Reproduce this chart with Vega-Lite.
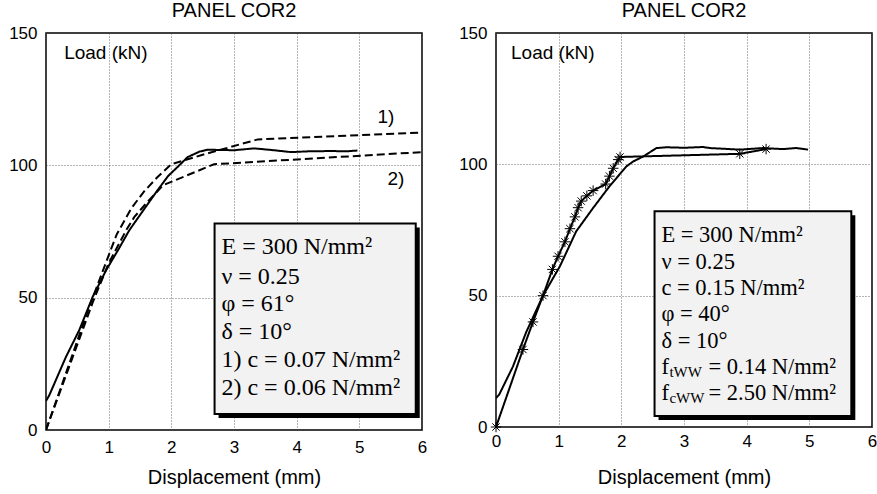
{
  "$schema": "https://vega.github.io/schema/vega-lite/v6.json",
  "background": "white",
  "padding": {"left": 5, "top": 0, "right": 0, "bottom": 0},
  "spacing": 27,
  "config": {
    "view": {"stroke": "black", "strokeWidth": 1.5},
    "font": "Liberation Sans",
    "axis": {
      "grid": true, "gridColor": "#444", "gridDash": [1, 2], "gridWidth": 0.8,
      "domain": false, "ticks": false, "labelFlush": false,
      "labelFont": "Liberation Sans", "labelFontSize": 17, "labelColor": "black",
      "titleFont": "Liberation Sans", "titleFontSize": 20, "titleFontWeight": "normal", "titleColor": "black"
    },
    "title": {"font": "Liberation Sans", "fontSize": 20, "fontWeight": "normal", "color": "black"}
  },
  "datasets": {
    "leftCurves": [
      {"x": 0, "y": 11, "s": "exp"}, {"x": 0.05, "y": 13, "s": "exp"}, {"x": 0.32, "y": 27.7, "s": "exp"},
      {"x": 0.53, "y": 37.7, "s": "exp"}, {"x": 0.745, "y": 50.3, "s": "exp"}, {"x": 0.96, "y": 60.4, "s": "exp"},
      {"x": 1.15, "y": 68, "s": "exp"}, {"x": 1.33, "y": 75.5, "s": "exp"}, {"x": 1.52, "y": 81.9, "s": "exp"},
      {"x": 1.78, "y": 90.6, "s": "exp"}, {"x": 1.95, "y": 96, "s": "exp"}, {"x": 2.1, "y": 99.4, "s": "exp"},
      {"x": 2.26, "y": 103.1, "s": "exp"}, {"x": 2.45, "y": 105.2, "s": "exp"}, {"x": 2.58, "y": 105.9, "s": "exp"},
      {"x": 2.8, "y": 105.8, "s": "exp"}, {"x": 3.0, "y": 105.7, "s": "exp"}, {"x": 3.32, "y": 106.4, "s": "exp"},
      {"x": 3.6, "y": 105.8, "s": "exp"}, {"x": 3.91, "y": 105, "s": "exp"}, {"x": 4.2, "y": 105.3, "s": "exp"},
      {"x": 4.55, "y": 105.4, "s": "exp"}, {"x": 4.8, "y": 105.3, "s": "exp"}, {"x": 4.97, "y": 105.6, "s": "exp"},
      {"x": 0, "y": 0, "s": "c1"}, {"x": 0.69, "y": 46.5, "s": "c1"}, {"x": 1.0, "y": 66, "s": "c1"},
      {"x": 1.13, "y": 74, "s": "c1"}, {"x": 1.36, "y": 83.7, "s": "c1"}, {"x": 1.56, "y": 90, "s": "c1"},
      {"x": 1.78, "y": 95.6, "s": "c1"}, {"x": 2.0, "y": 100.4, "s": "c1"}, {"x": 2.5, "y": 104, "s": "c1"},
      {"x": 3.38, "y": 109.8, "s": "c1"}, {"x": 6, "y": 112.4, "s": "c1"},
      {"x": 0, "y": 0, "s": "c2"}, {"x": 0.75, "y": 48.5, "s": "c2"}, {"x": 1.0, "y": 63, "s": "c2"},
      {"x": 1.28, "y": 75.5, "s": "c2"}, {"x": 1.41, "y": 80.5, "s": "c2"}, {"x": 1.62, "y": 86.2, "s": "c2"},
      {"x": 1.87, "y": 92.5, "s": "c2"}, {"x": 2.68, "y": 100.4, "s": "c2"}, {"x": 6, "y": 105, "s": "c2"}
    ],
    "rightCurves": [
      {"x": 0, "y": 11, "s": "exp"}, {"x": 0.05, "y": 12.3, "s": "exp"}, {"x": 0.27, "y": 23, "s": "exp"},
      {"x": 0.48, "y": 36, "s": "exp"}, {"x": 0.75, "y": 50, "s": "exp"}, {"x": 1.02, "y": 61.2, "s": "exp"},
      {"x": 1.28, "y": 74.5, "s": "exp"}, {"x": 1.55, "y": 83.4, "s": "exp"}, {"x": 1.81, "y": 91.6, "s": "exp"},
      {"x": 2.08, "y": 99.2, "s": "exp"}, {"x": 2.19, "y": 101.1, "s": "exp"}, {"x": 2.35, "y": 103, "s": "exp"},
      {"x": 2.56, "y": 106.2, "s": "exp"}, {"x": 2.72, "y": 106.5, "s": "exp"}, {"x": 3.0, "y": 106.3, "s": "exp"},
      {"x": 3.3, "y": 106.6, "s": "exp"}, {"x": 3.41, "y": 106.2, "s": "exp"}, {"x": 3.89, "y": 105.6, "s": "exp"},
      {"x": 4.26, "y": 106.2, "s": "exp"}, {"x": 4.58, "y": 105.8, "s": "exp"}, {"x": 4.79, "y": 106.2, "s": "exp"},
      {"x": 4.98, "y": 105.6, "s": "exp"},
      {"x": 0, "y": 0, "s": "num"}, {"x": 0.43, "y": 29.5, "s": "num"}, {"x": 0.59, "y": 40, "s": "num"},
      {"x": 0.75, "y": 50, "s": "num"}, {"x": 0.9, "y": 60, "s": "num"}, {"x": 0.99, "y": 65, "s": "num"},
      {"x": 1.1, "y": 70.5, "s": "num"}, {"x": 1.18, "y": 75.5, "s": "num"}, {"x": 1.26, "y": 80, "s": "num"},
      {"x": 1.31, "y": 83.5, "s": "num"}, {"x": 1.36, "y": 86, "s": "num"}, {"x": 1.45, "y": 88, "s": "num"},
      {"x": 1.55, "y": 90, "s": "num"}, {"x": 1.75, "y": 92.5, "s": "num"}, {"x": 1.81, "y": 95.5, "s": "num"},
      {"x": 1.87, "y": 98.5, "s": "num"}, {"x": 1.95, "y": 101.8, "s": "num"}, {"x": 1.98, "y": 102.8, "s": "num"},
      {"x": 3.89, "y": 104, "s": "num"}, {"x": 4.31, "y": 105.8, "s": "num"}
    ],
    "leftBox": [{"x": 2.69, "x2": 5.9, "y": 6.0, "y2": 78.0}],
    "rightBox": [{"x": 2.53, "x2": 5.67, "y": 4.2, "y2": 82.1}],
    "leftLabels": [
      {"x": 0.29, "y": 142.6, "t": "Load (kN)"},
      {"x": 5.29, "y": 118.2, "t": "1)"},
      {"x": 5.45, "y": 95.0, "t": "2)"}
    ],
    "rightLabels": [
      {"x": 0.24, "y": 142.4, "t": "Load (kN)"}
    ],
    "leftBoxText": [
      {"x": 2.8, "y": 69.1, "t": "E = 300 N/mm²"},
      {"x": 2.8, "y": 57.9, "t": "ν = 0.25"},
      {"x": 2.8, "y": 47.5, "t": "φ = 61°"},
      {"x": 2.8, "y": 37.2, "t": "δ = 10°"},
      {"x": 2.8, "y": 26.6, "t": "1) c = 0.07 N/mm²"},
      {"x": 2.8, "y": 16.0, "t": "2) c = 0.06 N/mm²"}
    ],
    "rightBoxText": [
      {"x": 2.64, "y": 73.1, "t": "E = 300 N/mm²"},
      {"x": 2.64, "y": 63.0, "t": "ν = 0.25"},
      {"x": 2.64, "y": 52.9, "t": "c = 0.15 N/mm²"},
      {"x": 2.64, "y": 43.0, "t": "φ = 40°"},
      {"x": 2.64, "y": 32.9, "t": "δ = 10°"}
    ],
    "rightBoxSub": [
      {"x": 2.64, "y": 22.8, "f": "f", "sub": "tWW", "rest": "= 0.14 N/mm²"},
      {"x": 2.64, "y": 12.8, "f": "f", "sub": "cWW", "rest": "= 2.50 N/mm²"}
    ]
  },
  "hconcat": [
    {
      "width": 376, "height": 397,
      "title": {"text": "PANEL COR2", "offset": 3},
      "encoding": {
        "x": {"field": "x", "type": "quantitative", "scale": {"domain": [0, 6], "nice": false, "zero": false},
              "axis": {"values": [0, 1, 2, 3, 4, 5, 6], "title": "Displacement (mm)", "labelPadding": 9, "titlePadding": 12, "format": "d"}},
        "y": {"field": "y", "type": "quantitative", "scale": {"domain": [0, 150], "nice": false, "zero": false},
              "axis": {"values": [0, 50, 100, 150], "title": null, "labelPadding": 9, "minExtent": 40, "maxExtent": 40, "format": "d"}}
      },
      "layer": [
        {
          "data": {"name": "leftCurves"},
          "mark": {"type": "line", "color": "black", "strokeWidth": 2, "clip": true},
          "encoding": {
            "detail": {"field": "s"},
            "strokeDash": {"field": "s", "type": "nominal", "scale": {"domain": ["exp", "c1", "c2"], "range": [[1, 0], [8, 4], [8, 4]]}, "legend": null}
          }
        },
        {
          "data": {"name": "leftLabels"},
          "mark": {"type": "text", "align": "left", "baseline": "middle", "fontSize": 19, "font": "Liberation Sans", "color": "black"},
          "encoding": {"text": {"field": "t"}}
        },
        {
          "data": {"name": "leftBox"},
          "mark": {"type": "rect", "fill": "black", "xOffset": 4, "x2Offset": 4, "yOffset": 4, "y2Offset": 4},
          "encoding": {"x2": {"field": "x2"}, "y2": {"field": "y2"}}
        },
        {
          "data": {"name": "leftBox"},
          "mark": {"type": "rect", "fill": "#f2f2f2", "stroke": "black", "strokeWidth": 2},
          "encoding": {"x2": {"field": "x2"}, "y2": {"field": "y2"}}
        },
        {
          "data": {"name": "leftBoxText"},
          "mark": {"type": "text", "align": "left", "baseline": "middle", "fontSize": 24, "font": "Liberation Serif", "color": "black"},
          "encoding": {"text": {"field": "t"}}
        }
      ]
    },
    {
      "width": 376, "height": 394,
      "title": {"text": "PANEL COR2", "offset": 3},
      "encoding": {
        "x": {"field": "x", "type": "quantitative", "scale": {"domain": [0, 6], "nice": false, "zero": false},
              "axis": {"values": [0, 1, 2, 3, 4, 5, 6], "title": "Displacement (mm)", "labelPadding": 6, "titlePadding": 18, "format": "d"}},
        "y": {"field": "y", "type": "quantitative", "scale": {"domain": [0, 150], "nice": false, "zero": false},
              "axis": {"values": [0, 50, 100, 150], "title": null, "labelPadding": 9, "minExtent": 40, "maxExtent": 40, "format": "d"}}
      },
      "layer": [
        {
          "data": {"name": "rightCurves"},
          "mark": {"type": "line", "color": "black", "strokeWidth": 2, "clip": true},
          "encoding": {
            "detail": {"field": "s"},
            "strokeDash": {"field": "s", "type": "nominal", "scale": {"domain": ["exp", "num"], "range": [[1, 0], [8, 4]]}, "legend": null}
          }
        },
        {
          "data": {"name": "rightCurves"},
          "transform": [{"filter": "datum.s === 'num'"}],
          "mark": {"type": "point", "shape": "M-1,0L1,0M0,-1L0,1M-0.7,-0.7L0.7,0.7M-0.7,0.7L0.7,-0.7", "size": 110, "filled": false, "color": "black", "strokeWidth": 1, "opacity": 1}
        },
        {
          "data": {"name": "rightLabels"},
          "mark": {"type": "text", "align": "left", "baseline": "middle", "fontSize": 19, "font": "Liberation Sans", "color": "black"},
          "encoding": {"text": {"field": "t"}}
        },
        {
          "data": {"name": "rightBox"},
          "mark": {"type": "rect", "fill": "black", "xOffset": 4, "x2Offset": 4, "yOffset": 4, "y2Offset": 4},
          "encoding": {"x2": {"field": "x2"}, "y2": {"field": "y2"}}
        },
        {
          "data": {"name": "rightBox"},
          "mark": {"type": "rect", "fill": "#f2f2f2", "stroke": "black", "strokeWidth": 2},
          "encoding": {"x2": {"field": "x2"}, "y2": {"field": "y2"}}
        },
        {
          "data": {"name": "rightBoxText"},
          "mark": {"type": "text", "align": "left", "baseline": "middle", "fontSize": 22.5, "font": "Liberation Serif", "color": "black"},
          "encoding": {"text": {"field": "t"}}
        },
        {
          "data": {"name": "rightBoxSub"},
          "mark": {"type": "text", "align": "left", "baseline": "middle", "fontSize": 22.5, "font": "Liberation Serif", "color": "black"},
          "encoding": {"text": {"field": "f"}}
        },
        {
          "data": {"name": "rightBoxSub"},
          "mark": {"type": "text", "align": "left", "baseline": "middle", "fontSize": 15, "font": "Liberation Serif", "color": "black", "dx": 8, "dy": 5},
          "encoding": {"text": {"field": "sub"}}
        },
        {
          "data": {"name": "rightBoxSub"},
          "mark": {"type": "text", "align": "left", "baseline": "middle", "fontSize": 22.5, "font": "Liberation Serif", "color": "black", "dx": 47},
          "encoding": {"text": {"field": "rest"}}
        }
      ]
    }
  ]
}
